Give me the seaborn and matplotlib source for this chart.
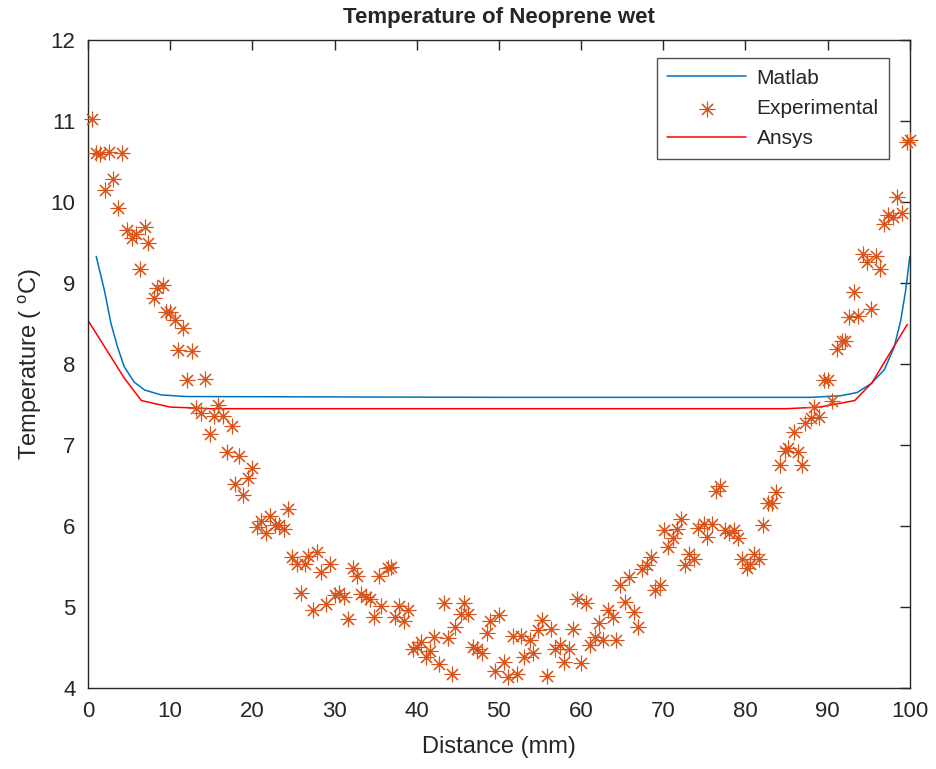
import numpy as np
import pandas as pd
import matplotlib
matplotlib.use('Agg')
import matplotlib.pyplot as plt
import seaborn as sns

# Matlab model curve
matlab_x = [1, 2, 2.8, 3.6, 4.4, 5.6, 6.9, 8.9, 12, 50, 88, 91.6, 93.6, 95.3, 96.9, 98.1, 98.9, 99.5, 100]
matlab_y = [9.33, 8.91, 8.50, 8.21, 7.97, 7.78, 7.68, 7.62, 7.60, 7.59, 7.59, 7.61, 7.65, 7.76, 7.93, 8.21, 8.54, 8.91, 9.33]

# Ansys result
ansys_x = [0, 4.4, 6.5, 10, 15, 50, 85, 89, 93.3, 95.4, 99.7]
ansys_y = [8.54, 7.83, 7.55, 7.47, 7.45, 7.45, 7.45, 7.47, 7.55, 7.77, 8.49]

# experimental readings
exp_x = [0.5, 1.0, 1.5, 2.6, 4.2, 3.1, 2.1, 3.7, 4.8, 5.3,
         5.8, 6.9, 7.3, 6.3, 8.4, 9.1, 8.0, 9.5, 10.0, 10.6,
         11.6, 11.0, 12.7, 12.1, 14.2, 13.2, 13.8, 15.8, 15.3, 16.4,
         17.5, 14.8, 16.9, 18.4, 20.0, 19.5, 17.9, 18.9, 20.6, 21.1,
         21.7, 22.1, 22.8, 23.3, 23.8, 24.3, 24.8, 25.4, 26.4, 26.8,
         27.9, 28.4, 29.5, 32.2, 32.7, 35.4, 36.5, 36.9, 25.9, 27.4,
         29.0, 30.0, 30.5, 31.1, 33.2, 33.8, 34.3, 35.7, 34.8, 37.8,
         39.0, 37.3, 38.4, 31.6, 39.5, 40.0, 40.5, 43.3, 45.8, 45.4,
         46.3, 44.7, 48.9, 50.0, 48.5, 41.6, 42.1, 43.8, 41.1, 42.7,
         44.3, 46.8, 47.3, 48.0, 49.5, 50.6, 51.1, 52.2, 51.7, 52.7,
         53.8, 54.7, 55.3, 56.4, 59.0, 59.5, 60.6, 54.2, 53.1, 55.8,
         56.8, 57.4, 58.5, 57.9, 60.0, 61.1, 61.7, 62.7, 64.2, 62.2,
         63.3, 63.9, 65.3, 66.4, 66.9, 64.7, 65.8, 67.4, 68.0, 68.5,
         69.0, 69.6, 70.6, 71.2, 70.1, 71.7, 72.1, 73.1, 72.6, 73.7,
         74.2, 74.9, 75.3, 75.9, 77.5, 78.0, 78.6, 79.1, 76.4, 76.9,
         79.6, 80.2, 80.6, 81.0, 81.7, 82.1, 82.7, 83.2, 83.7, 84.2,
         84.8, 85.2, 86.4, 86.9, 85.9, 87.3, 88.0, 89.0, 88.4, 90.5,
         89.6, 90.1, 91.1, 91.8, 92.1, 92.6, 93.7, 95.3, 93.2, 94.3,
         94.8, 95.9, 96.4, 96.9, 97.4, 98.0, 99.1, 98.5, 99.7, 100.0]
exp_y = [11.02, 10.60, 10.59, 10.62, 10.60, 10.29, 10.15, 9.93, 9.66, 9.56,
         9.61, 9.69, 9.49, 9.17, 8.94, 8.98, 8.81, 8.64, 8.64, 8.55,
         8.45, 8.17, 8.16, 7.80, 7.82, 7.46, 7.40, 7.50, 7.36, 7.36,
         7.24, 7.14, 6.92, 6.86, 6.72, 6.60, 6.52, 6.38, 5.99, 6.06,
         5.91, 6.13, 6.01, 6.02, 5.96, 6.21, 5.62, 5.53, 5.53, 5.63,
         5.68, 5.43, 5.53, 5.49, 5.38, 5.39, 5.49, 5.50, 5.17, 4.97,
         5.04, 5.15, 5.17, 5.13, 5.16, 5.13, 5.10, 5.02, 4.88, 5.01,
         4.97, 4.88, 4.83, 4.85, 4.49, 4.51, 4.57, 5.05, 5.05, 4.92,
         4.92, 4.76, 4.83, 4.90, 4.68, 4.46, 4.63, 4.62, 4.38, 4.30,
         4.18, 4.51, 4.48, 4.44, 4.21, 4.32, 4.14, 4.17, 4.64, 4.64,
         4.60, 4.72, 4.84, 4.73, 4.73, 5.10, 5.05, 4.43, 4.39, 4.15,
         4.49, 4.53, 4.49, 4.32, 4.31, 4.53, 4.63, 4.60, 4.60, 4.81,
         4.96, 4.88, 5.07, 4.94, 4.75, 5.28, 5.37, 5.47, 5.52, 5.62,
         5.21, 5.27, 5.74, 5.86, 5.95, 5.96, 6.09, 5.66, 5.52, 5.60,
         5.98, 6.03, 5.87, 6.03, 5.95, 5.91, 5.95, 5.85, 6.43, 6.49,
         5.60, 5.49, 5.53, 5.66, 5.59, 6.02, 6.28, 6.28, 6.42, 6.76,
         6.93, 6.97, 6.91, 6.75, 7.16, 7.27, 7.33, 7.35, 7.47, 7.55,
         7.80, 7.81, 8.19, 8.29, 8.28, 8.58, 8.60, 8.68, 8.89, 9.36,
         9.26, 9.34, 9.18, 9.73, 9.84, 9.82, 9.86, 10.06, 10.74, 10.76]

sns.set_style('white')
plt.rcParams['font.family'] = ['Liberation Sans', 'DejaVu Sans']
plt.rcParams['mathtext.fontset'] = 'custom'
plt.rcParams['mathtext.rm'] = 'Liberation Sans'
plt.rcParams['mathtext.it'] = 'Liberation Sans'

fig = plt.figure(figsize=(9.36, 7.69), dpi=100)
ax = fig.add_axes([0.094, 0.105, 0.878, 0.843])

matlab = pd.DataFrame({'x': matlab_x, 'y': matlab_y})
ansys = pd.DataFrame({'x': ansys_x, 'y': ansys_y})
exp = pd.DataFrame({'x': exp_x, 'y': exp_y})

sns.lineplot(data=matlab, x='x', y='y', sort=False, estimator=None, ax=ax,
             color='#0072BD', linewidth=1.1, label='Matlab')
sns.scatterplot(data=exp, x='x', y='y', marker=(8, 2, 0), s=115, color='#D95319',
                linewidth=0.8, ax=ax, label='Experimental', clip_on=False, zorder=3)
sns.lineplot(data=ansys, x='x', y='y', sort=False, estimator=None, ax=ax,
             color='#FF0000', linewidth=1.1, label='Ansys')

ax.set_xlim(0, 100)
ax.set_ylim(4, 12)
ax.set_xticks(np.arange(0, 101, 10))
ax.set_yticks(np.arange(4, 13, 1))
ax.tick_params(direction='in', length=7, width=1, top=True, right=True,
               labelsize=16, colors='#262626', pad=9)
for sp in ax.spines.values():
    sp.set_color('#262626')
    sp.set_linewidth(1.0)

ax.set_title('Temperature of Neoprene wet', fontsize=16, fontweight='bold', pad=12)
ax.set_xlabel('Distance (mm)', fontsize=17, color='#262626', labelpad=10)
ax.set_ylabel('Temperature ( $^{\\rm o}$C)', fontsize=17, color='#262626', labelpad=5)

leg = ax.legend(loc='upper right', bbox_to_anchor=(0.975, 0.972), fontsize=15,
                frameon=True, fancybox=False, handlelength=3.8, borderpad=0.5,
                labelspacing=0.55, handletextpad=0.5, borderaxespad=0)
leg.get_frame().set_edgecolor('#262626')
leg.get_frame().set_linewidth(1.0)

fig.savefig('out.png', dpi=100)
